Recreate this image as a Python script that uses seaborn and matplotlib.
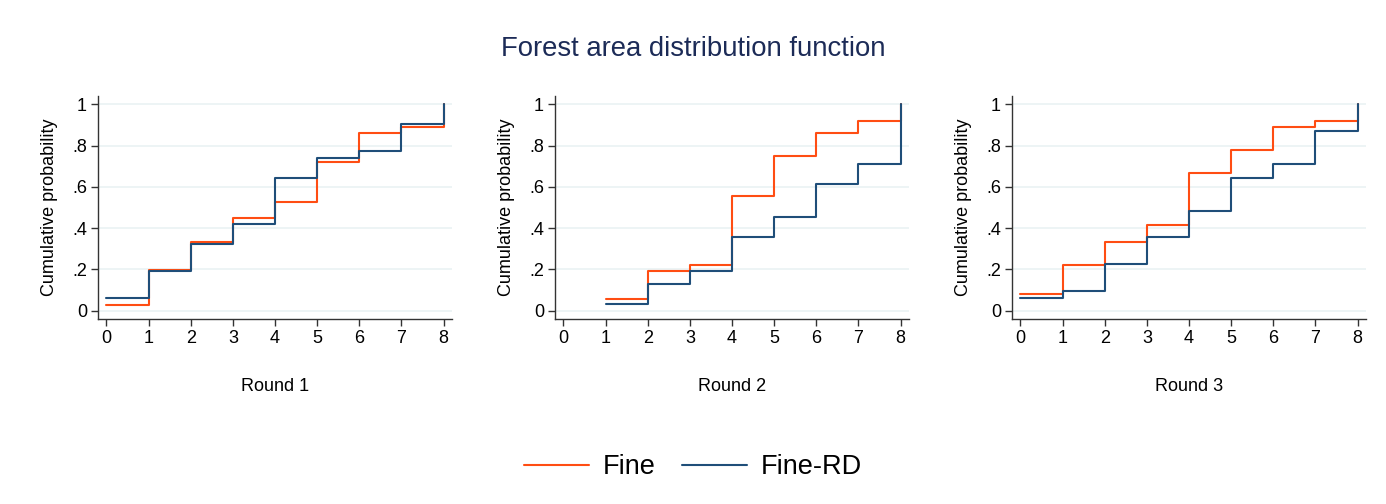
import numpy as np
import pandas as pd
import matplotlib
matplotlib.use("Agg")
import matplotlib.pyplot as plt
import seaborn as sns
from matplotlib.lines import Line2D

sns.set_theme(style="white")
plt.rcParams['font.family'] = ['Liberation Sans', 'DejaVu Sans']
plt.rcParams['text.color'] = 'black'

rounds = ["Round 1", "Round 2", "Round 3"]
groups = ["Fine", "Fine-RD"]

r1_x = [0, 1, 2, 3, 4, 5, 6, 7, 8]
r1_fine = [0.027, 0.196, 0.334, 0.448, 0.528, 0.722, 0.860, 0.891, 1.0]
r1_finerd = [0.064, 0.193, 0.324, 0.421, 0.645, 0.742, 0.775, 0.905, 1.0]

r2_x = [1, 2, 3, 4, 5, 6, 7, 8]
r2_fine = [0.055, 0.194, 0.223, 0.555, 0.751, 0.862, 0.918, 1.0]
r2_finerd = [0.032, 0.128, 0.193, 0.356, 0.453, 0.612, 0.711, 1.0]

r3_x = [0, 1, 2, 3, 4, 5, 6, 7, 8]
r3_fine = [0.083, 0.222, 0.334, 0.417, 0.668, 0.778, 0.891, 0.918, 1.0]
r3_finerd = [0.063, 0.096, 0.225, 0.356, 0.485, 0.645, 0.711, 0.872, 1.0]

x_ticks = [0, 1, 2, 3, 4, 5, 6, 7, 8]
y_ticks = [0, 0.2, 0.4, 0.6, 0.8, 1.0]
y_ticklabels = ["0", ".2", ".4", ".6", ".8", "1"]

colors = {"Fine": "#ff4d13", "Fine-RD": "#1f4e79"}

data = [(r1_x, r1_fine, r1_finerd), (r2_x, r2_fine, r2_finerd), (r3_x, r3_fine, r3_finerd)]

W, H = 1386, 504
fig = plt.figure(figsize=(W / 100, H / 100), dpi=100)

lefts = [98, 555, 1012]
width = 354
top, bottom = 96, 319

for i, (xs, f, frd) in enumerate(data):
    ax = fig.add_axes([lefts[i] / W, 1 - bottom / H, width / W, (bottom - top) / H])
    df = pd.DataFrame({
        "x": list(xs) + list(xs),
        "p": list(f) + list(frd),
        "group": ["Fine"] * len(xs) + ["Fine-RD"] * len(xs),
    })
    sns.lineplot(data=df, x="x", y="p", hue="group", palette=colors,
                 drawstyle="steps-post", linewidth=1.5, legend=False, ax=ax,
                 estimator=None, sort=True)
    ax.set_xlim(-0.2, 8.2)
    ax.set_ylim(-0.04, 1.04)
    ax.set_xticks(x_ticks)
    ax.set_xticklabels([str(t) for t in x_ticks])
    ax.set_yticks(y_ticks)
    ax.set_yticklabels(y_ticklabels)
    ax.yaxis.grid(True, color="#eaf2f3", linewidth=1.2)
    ax.xaxis.grid(False)
    ax.set_axisbelow(True)
    for s in ["top", "right"]:
        ax.spines[s].set_visible(False)
    for s in ["left", "bottom"]:
        ax.spines[s].set_color("#333333")
        ax.spines[s].set_linewidth(1.0)
    ax.tick_params(axis="both", which="both", direction="out", length=5, width=1,
                   color="#333333", labelsize=13, labelcolor="black", pad=3,
                   bottom=True, left=True)
    ax.set_xlabel(rounds[i], fontsize=13, labelpad=22, color="black")
    ax.set_ylabel("Cumulative probability", fontsize=13, labelpad=10, color="black")

fig.text(0.5, 1 - 49 / H, "Forest area distribution function", ha="center", va="center",
         fontsize=19.8, color="#1c2b57")

handles = [Line2D([0], [0], color=colors[g], linewidth=1.5) for g in groups]
fig.legend(handles, groups, loc="center", bbox_to_anchor=(0.5, 1 - 467 / H), ncol=2,
           frameon=False, fontsize=19.5, handlelength=2.4, columnspacing=1.0,
           handletextpad=0.5, labelcolor="black")

fig.savefig("out.png", dpi=100, facecolor="white")
